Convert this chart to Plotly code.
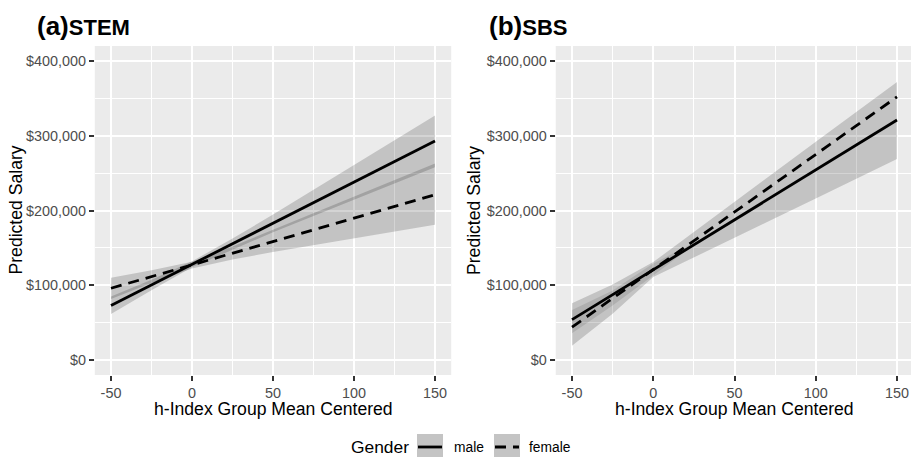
import plotly.graph_objects as go

# ---------------- data ----------------
x_line = [-50, 150]
stem_male_fit = [73000, 293000]
stem_female_fit = [96000, 221000]
sbs_male_fit = [54000, 321000]
sbs_female_fit = [44000, 352000]

x_ci = [-50, -25, 0, 25, 50, 100, 150]
stem_male_lo = [61500, 93500, 124000, 148000, 171000, 214500, 258000]
stem_male_hi = [85000, 107500, 132000, 162500, 194500, 260500, 327000]
stem_female_lo = [81500, 103000, 122500, 134500, 144500, 163000, 181000]
stem_female_hi = [110000, 120000, 131500, 152000, 174000, 218500, 263000]

sbs_lo = [19000, 62000, 111000, 137000, 164000, 216000, 269000]
sbs_hi = [76000, 101000, 131000, 171000, 211000, 292000, 372000]
x_overlap = [-50, -25, 0, 25]
sbs_overlap_lo = [36000, 73000, 113000, 154000]
sbs_overlap_hi = [67000, 93000, 129000, 157000]

x_tick_vals = [-50, 0, 50, 100, 150]
x_tick_text = ["-50", "0", "50", "100", "150"]
x_minor_vals = [-25, 25, 75, 125]
y_tick_vals = [0, 100000, 200000, 300000, 400000]
y_tick_text = ["$0", "$100,000", "$200,000", "$300,000", "$400,000"]
y_minor_vals = [50000, 150000, 250000, 350000]

panel_tags = ["(a)", "(b)"]
panel_names = ["STEM", "SBS"]
x_title = "h-Index Group Mean Centered"
y_title = "Predicted Salary"
legend_title = "Gender"
legend_labels = ["male", "female"]

# ---------------- layout helpers ----------------
W, H = 911, 457
FONT = "Liberation Sans, Arial, Helvetica, sans-serif"
def px(x):
    return x / W
def py(y):
    return 1 - y / H

RIB = "rgba(0,0,0,0.17)"
DASH = "11px,7px"
LW = 2.8

fig = go.Figure()

def ribbon(xs, lo, hi, xa, ya, color=RIB):
    fig.add_trace(go.Scatter(
        x=list(xs) + list(xs)[::-1], y=list(lo) + list(hi)[::-1],
        fill="toself", fillcolor=color, line=dict(width=0),
        mode="lines", xaxis=xa, yaxis=ya, hoverinfo="skip", showlegend=False))

def fitline(xs, ys, xa, ya, dash="solid"):
    fig.add_trace(go.Scatter(
        x=xs, y=ys, mode="lines", line=dict(color="black", width=LW, dash=dash),
        xaxis=xa, yaxis=ya, hoverinfo="skip", showlegend=False))

# Panel (a) STEM
ribbon(x_ci, stem_male_lo, stem_male_hi, "x", "y")
ribbon(x_ci, stem_female_lo, stem_female_hi, "x", "y")
fitline(x_line, stem_male_fit, "x", "y")
fitline(x_line, stem_female_fit, "x", "y", DASH)

# Panel (b) SBS
ribbon(x_ci, sbs_lo, sbs_hi, "x2", "y2")
ribbon(x_overlap, sbs_overlap_lo, sbs_overlap_hi, "x2", "y2", "rgba(0,0,0,0.10)")
fitline(x_line, sbs_male_fit, "x2", "y2")
fitline(x_line, sbs_female_fit, "x2", "y2", DASH)

def xaxis(domain, rng, anchor):
    return dict(domain=domain, range=rng, anchor=anchor,
                tickmode="array", tickvals=x_tick_vals, ticktext=x_tick_text,
                ticks="outside", ticklen=5, tickwidth=1.6, tickcolor="#333333",
                tickfont=dict(family=FONT, size=14.4, color="#4D4D4D"),
                showgrid=True, gridcolor="white", gridwidth=1.6,
                minor=dict(tickmode="array", tickvals=x_minor_vals, showgrid=True,
                           gridcolor="white", gridwidth=0.8, ticks=""),
                zeroline=False, showline=False, fixedrange=True)

def yaxis(domain, anchor):
    return dict(domain=domain, range=[-20000, 420000], anchor=anchor,
                tickmode="array", tickvals=y_tick_vals, ticktext=y_tick_text,
                ticks="outside", ticklen=5, tickwidth=1.6, tickcolor="#333333",
                tickfont=dict(family=FONT, size=14.4, color="#4D4D4D"),
                showgrid=True, gridcolor="white", gridwidth=1.6,
                minor=dict(tickmode="array", tickvals=y_minor_vals, showgrid=True,
                           gridcolor="white", gridwidth=0.8, ticks=""),
                zeroline=False, showline=False, fixedrange=True)

ydom = [py(375), py(46)]
annotations = []
shapes = []

panels = [
    dict(tagx=35, ytx=16, xtx=273.5),
    dict(tagx=487, ytx=474.5, xtx=734.5),
]
for i, p in enumerate(panels):
    annotations.append(dict(
        text="<b><span style='font-size:26px'>%s</span>%s</b>" % (panel_tags[i], panel_names[i]),
        xref="paper", yref="paper", x=px(p["tagx"]), y=py(43), xanchor="left", yanchor="bottom",
        showarrow=False, font=dict(family=FONT, size=22, color="black")))
    annotations.append(dict(
        text=x_title, xref="paper", yref="paper", x=px(p["xtx"]), y=py(408.5),
        xanchor="center", yanchor="middle", showarrow=False,
        font=dict(family=FONT, size=17.6, color="black")))
    annotations.append(dict(
        text=y_title, xref="paper", yref="paper", x=px(p["ytx"]), y=py(210.5),
        xanchor="center", yanchor="middle", textangle=-90, showarrow=False,
        font=dict(family=FONT, size=17.6, color="black")))

# Legend (drawn manually)
annotations.append(dict(text=legend_title, xref="paper", yref="paper", x=px(349), y=py(447),
                        xanchor="left", yanchor="middle", showarrow=False,
                        font=dict(family=FONT, size=17.4, color="black")))
annotations.append(dict(text=legend_labels[0], xref="paper", yref="paper", x=px(452), y=py(447),
                        xanchor="left", yanchor="middle", showarrow=False,
                        font=dict(family=FONT, size=13.8, color="black")))
annotations.append(dict(text=legend_labels[1], xref="paper", yref="paper", x=px(527), y=py(447),
                        xanchor="left", yanchor="middle", showarrow=False,
                        font=dict(family=FONT, size=13.8, color="black")))
for bx, dash in [(417, "solid"), (494, DASH)]:
    shapes.append(dict(type="rect", xref="paper", yref="paper",
                       x0=px(bx), x1=px(bx + 26), y0=py(460), y1=py(434),
                       fillcolor="rgb(196,196,196)", line=dict(width=0), layer="above"))
    shapes.append(dict(type="line", xref="paper", yref="paper",
                       x0=px(bx + 1), x1=px(bx + 25), y0=py(447), y1=py(447),
                       line=dict(color="black", width=LW, dash=dash), layer="above"))

fig.update_layout(
    width=W, height=H,
    margin=dict(l=0, r=0, t=0, b=0),
    paper_bgcolor="white", plot_bgcolor="#EBEBEB",
    showlegend=False, hovermode=False,
    font=dict(family=FONT),
    xaxis=xaxis([px(94.8), px(451.2)], [-60, 160], "y"),
    yaxis=yaxis(ydom, "x"),
    xaxis2=xaxis([px(555.75), 1.0], [-60, 158.6], "y2"),
    yaxis2=yaxis(ydom, "x2"),
    annotations=annotations,
    shapes=shapes,
)

fig.write_html("out.html", config={"displayModeBar": False},
               post_script="document.body.style.margin='0';document.body.style.overflow='hidden';")
